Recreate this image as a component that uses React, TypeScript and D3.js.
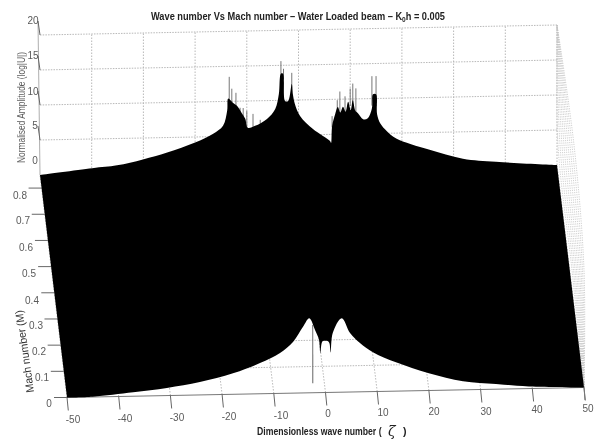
import React from "react";
import * as d3 from "d3";

const titleText = "Wave number Vs Mach number – Water Loaded beam – K";
const zetaTicks = [-50, -40, -30, -20, -10, 0, 10, 20, 30, 40, 50];
const machTicks = [0, 0.1, 0.2, 0.3, 0.4, 0.5, 0.6, 0.7, 0.8];
const ampTicks = [0, 5, 10, 15, 20];

// far edge of the surface, zeta vs log amplitude
const topZeta = [-50, -39.9, -35.1, -30.1, -25.4, -20, -16.5, -14.6, -13.8, -13.6, -12.7, -11.9, -10.9, -10.3, -9.8, -8.4, -6.1, -4.5, -3.8, -3.4, -3, -2.6, -2, -1.3, -1.1, -0.7, 0.3, 2.8, 6.1, 6.3, 6.5, 7.1, 7.6, 8.1, 8.6, 9.1, 9.6, 10.1, 10.5, 11, 11.5, 12.5, 13.4, 14.2, 14.4, 15, 15.2, 15.8, 17.1, 18.9, 25.2, 31.8, 38.2, 50];
const topAmp = [0, 0.83, 1.17, 1.94, 2.86, 4.2, 5.43, 6.54, 8.67, 10.4, 9.8, 9.34, 8.19, 7.46, 6.17, 6.43, 7.39, 8.79, 10.9, 13.8, 13.8, 9.9, 9.9, 12.3, 10.9, 9.44, 7.71, 5.81, 4.04, 3.76, 6.17, 7.89, 8.9, 8.1, 8.9, 8.2, 9.6, 8.4, 9.8, 8.3, 7.94, 7.07, 7.2, 8.61, 10.6, 10.6, 7.74, 6.44, 5.29, 4.24, 2.57, 1.17, 0.63, 0];

// grey spikes standing above the far edge
const spikeZeta = [-13.4, -12.9, -12.1, -11.3, -10.7, -10, -8.8, -7.4, -3.4, -2.9, -1.3, 6.5, 7.5, 8, 9, 10, 10.5, 11.1, 14.2, 15];
const spikeAmp = [13.5, 11.8, 11.2, 9.05, 9, 8.6, 8.14, 7.27, 15.6, 14.5, 13.9, 7.6, 9.87, 11.1, 10.4, 11.5, 12.2, 11.5, 13.2, 13.2];
const spikeBase = [10, 9, 9, 8, 7, 6, 6, 6.4, 13, 13, 11, 6, 7.5, 8, 8, 9, 9, 8, 9, 9];

// near edge of the surface on the floor, zeta vs Mach
const edgeZeta = [-50, -45, -37.1, -30.5, -24, -17.4, -11.95, -7.85, -5.09, -2.8, -1.39, -0.56, -0.02, -0.08, 0.43, 0.72, 1.62, 1.9, 1.93, 2.79, 4.87, 6.13, 7.81, 10.1, 14.3, 20.4, 26.8, 33.1, 39.4, 50];
const edgeMach = [0, 0.001, 0.015, 0.029, 0.049, 0.08, 0.117, 0.154, 0.195, 0.252, 0.284, 0.239, 0.201, 0.151, 0.189, 0.196, 0.196, 0.188, 0.151, 0.226, 0.282, 0.225, 0.186, 0.15, 0.11, 0.066, 0.033, 0.02, 0.008, 0];

const nearSpikeZeta = [-0.89, -2.24];
const nearSpikeMach = [0.258, 0.036];

const machMax = 0.85;

const frontX = d3.scaleLinear().domain([-50, 50]).range([67, 584]);
const frontY = d3.scaleLinear().domain([-50, 50]).range([397.5, 387.5]);
const depthX = d3.scaleLinear().domain([0, machMax]).range([0, -27]);
const depthY = d3.scaleLinear().domain([0, machMax]).range([0, -222.5]);
const ampY = d3.scaleLinear().domain([0, 20]).range([0, -140]);

const floorPt = (z: number, m: number): [number, number] => [frontX(z) + depthX(m), frontY(z) + depthY(m)];
const wallPt = (z: number, a: number): [number, number] => {
  const [x, y] = floorPt(z, machMax);
  return [x, y + ampY(a)];
};

const line = d3.line();
const smooth = d3.line().curve(d3.curveCatmullRom.alpha(0.5));
const grid = "#b0b0b0";
const ink = "#5a5a5a";

const zetaLabelPos: [number, number][] = [[73, 423], [125, 422], [177, 421], [229, 420], [281, 419], [328, 417], [383, 416], [434, 415], [486, 415], [537, 413], [588, 412]];
const machLabelPos: [number, number][] = [[49, 407], [42, 381], [39, 355], [36, 329], [32, 304], [29, 277], [26, 251], [23, 224], [20, 199]];
const ampLabelPos: [number, number][] = [[35, 164], [35, 129], [33, 95], [33, 59], [33, 24]];

export default function App() {
  const topPts = topZeta.map((z, i) => wallPt(z, topAmp[i]));
  const edgePts = edgeZeta.map((z, i) => floorPt(z, edgeMach[i]));
  const surface = `${smooth(topPts)}L${(smooth([...edgePts].reverse()) ?? "").slice(1)}Z`;

  const corner = wallPt(50, 20);
  const end = floorPt(50, 0);

  return (
    <svg width={596} height={440} style={{ position: "absolute", left: 0, top: 0, background: "#fff" }} fontFamily="'Liberation Sans', Arial, sans-serif">
      <defs>
        <filter id="soft" x="-5%" y="-5%" width="110%" height="110%">
          <feGaussianBlur stdDeviation="0.35" />
        </filter>
      </defs>
      <g filter="url(#soft)">
        {/* back wall grid */}
        {ampTicks.slice(1).map((a) => (
          <path key={a} d={line([wallPt(-50, a), wallPt(50, a)]) ?? ""} stroke={grid} strokeWidth={0.9} strokeDasharray="1.5 1.2" fill="none" />
        ))}
        {zetaTicks.slice(1).map((z) => (
          <path key={z} d={line([wallPt(z, 0), wallPt(z, 20)]) ?? ""} stroke={grid} strokeWidth={0.9} strokeDasharray="1.5 1.5" fill="none" />
        ))}

        {/* right wall, the dotted fan */}
        {machTicks.map((m, i) => {
          const t = i / (machTicks.length - 1);
          const curve = d3.line().curve(d3.curveCatmullRom);
          return (
            <path key={m} d={curve([corner, [corner[0] + 1 + t * 16, 145], [572 + t * 12, 270], end]) ?? ""} stroke="#c4c4c4" strokeWidth={0.8} strokeDasharray="1.2 1.2" fill="none" />
          );
        })}

        {/* floor grid */}
        {machTicks.slice(1, 3).map((m) => (
          <path key={m} d={line([floorPt(-50, m), floorPt(50, m)]) ?? ""} stroke={grid} strokeWidth={0.9} strokeDasharray="1.5 1.2" fill="none" />
        ))}
        {zetaTicks.map((z) => (
          <path key={z} d={line([floorPt(z, 0), floorPt(z, machMax)]) ?? ""} stroke={grid} strokeWidth={0.9} strokeDasharray="1.5 1.5" fill="none" />
        ))}

        {/* spikes go under the black */}
        {spikeZeta.map((z, i) => (
          <path key={i} d={line([wallPt(z, spikeBase[i]), wallPt(z, spikeAmp[i])]) ?? ""} stroke="#777" strokeWidth={1} fill="none" />
        ))}
        <path d={line(nearSpikeZeta.map((z, i) => floorPt(z, nearSpikeMach[i]))) ?? ""} stroke="#777" strokeWidth={1.1} fill="none" />

        {/* front axis */}
        <path d={line([floorPt(-50, 0), end]) ?? ""} stroke="#777" strokeWidth={1} fill="none" />
        {zetaTicks.map((z) => {
          const [x, y] = floorPt(z, 0);
          return <path key={z} d={`M${x},${y}L${x + 1.3},${y + 13}`} stroke="#666" strokeWidth={1} fill="none" />;
        })}
        {machTicks.map((m) => {
          const [x, y] = floorPt(-50, m);
          return <path key={m} d={`M${x},${y}L${x - 13},${y}`} stroke="#666" strokeWidth={1} fill="none" />;
        })}

        {/* amplitude axis */}
        <path d={line([wallPt(-50, 0), [38, 21]]) ?? ""} stroke="#999" strokeWidth={0.8} fill="none" />
        {ampTicks.slice(1).map((a) => {
          const [x, y] = wallPt(-50, a);
          return <path key={a} d={`M${x},${y}L${x - 2},${y - 14}`} stroke="#666" strokeWidth={1} fill="none" />;
        })}

        <path d={surface} fill="#000" />
        <path d={line([end, [585, 400]]) ?? ""} stroke="#777" strokeWidth={1} fill="none" />

        {/* text */}
        <text transform="translate(151,20) scale(0.88,1)" fontSize={10.5} fontWeight="bold" fill="#222">
          {titleText}
          <tspan fontSize={7.5} dy={2}>0</tspan>
          <tspan dy={-2}>h = 0.005</tspan>
        </text>
        {zetaTicks.map((z, i) => (
          <text key={z} x={zetaLabelPos[i][0]} y={zetaLabelPos[i][1]} fontSize={10} fill={ink} textAnchor="middle">{z}</text>
        ))}
        {machTicks.map((m, i) => (
          <text key={m} x={machLabelPos[i][0]} y={machLabelPos[i][1]} fontSize={10} fill={ink} textAnchor="middle">{m}</text>
        ))}
        {ampTicks.map((a, i) => (
          <text key={a} x={ampLabelPos[i][0]} y={ampLabelPos[i][1]} fontSize={10} fill={ink} textAnchor="middle">{a}</text>
        ))}
        <text transform="translate(25,163) rotate(-90)" fontSize={10.4} fill={ink} textLength={111} lengthAdjust="spacingAndGlyphs">Normalised Amplitude (log|U|)</text>
        <text transform="translate(34,392) rotate(-98)" fontSize={11} fill="#333" textLength={83} lengthAdjust="spacingAndGlyphs">Mach number (M)</text>
        <text transform="translate(257,435) scale(0.82,1)" fontSize={10.6} fontWeight="bold" fill="#222">Dimensionless wave number (</text>
        <text x={388} y={436} fontSize={14} fontStyle="italic" fontFamily="'DejaVu Serif', serif" fill="#222">ζ</text>
        <text x={403} y={435} fontSize={10.6} fontWeight="bold" fill="#222">)</text>
      </g>
    </svg>
  );
}
